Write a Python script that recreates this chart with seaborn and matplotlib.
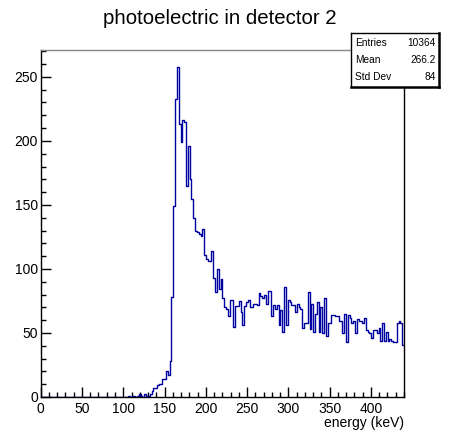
import matplotlib

matplotlib.use("Agg")

import matplotlib.pyplot as plt
import numpy as np
import pandas as pd
import seaborn as sns
from matplotlib.ticker import MultipleLocator

# histogram: 200 bins of 2.2 keV from 0 to 440 keV
bin_width = 2.2
n_bins = 200
counts = (
    [0] * 48
    + [1, 0, 1, 1, 0, 1, 2, 1, 0, 2, 1, 1, 2]
    + [5, 7, 7, 9, 10, 10, 14, 14, 20, 17, 28]
    + [78, 149, 233, 258, 213, 199, 216, 215, 165, 196, 170, 155]
    + [140, 130, 129, 127, 126, 131, 111, 108, 106, 106, 114, 93, 82, 100, 84, 92, 77, 70, 69, 63]
    + [76, 76, 55, 71, 71, 75, 66, 56, 71, 74, 76, 70, 70, 73, 73, 72, 81, 79, 77, 80,
       73, 83, 83, 63, 72, 69, 72, 56, 68, 51, 86, 56, 76, 74, 72, 72, 66, 73, 70, 69,
       54, 58, 58, 82, 53, 73, 51]
    + [65, 74, 51, 70, 50, 77, 48, 58, 58, 64, 64, 63, 63, 59, 59, 50, 65, 43, 64, 62,
       58, 59, 50, 61, 59, 59, 58, 62, 52, 51, 50, 46, 52, 52, 50, 54, 44, 58, 44, 51,
       44, 45, 44, 43, 43, 58, 59, 58, 41]
)

title = "photoelectric in detector 2"
x_label = "energy (keV)"
stat_names = ["Entries", "Mean", "Std Dev"]
stat_values = ["10364", "266.2", "84"]

sns.set_theme(style="ticks")
plt.rcParams["font.family"] = ["Liberation Sans", "DejaVu Sans"]
plt.rcParams["text.color"] = "black"

centers = (np.arange(n_bins) + 0.5) * bin_width
frame = pd.DataFrame({"energy": centers, "count": counts})

fig = plt.figure(figsize=(4.49, 4.34), dpi=100)
fig.patch.set_facecolor("white")
ax = fig.add_axes([40.7 / 449, 1 - 397 / 434, (404 - 40.7) / 449, (397 - 50) / 434])
ax.set_facecolor("white")

sns.histplot(
    data=frame,
    x="energy",
    weights="count",
    bins=n_bins,
    binrange=(0, n_bins * bin_width),
    element="step",
    fill=False,
    color="#0000a0",
    linewidth=1.0,
    ax=ax,
)

ax.set_xlim(0, 440)
ax.set_ylim(0, 271)
ax.set_ylabel("")
ax.set_xlabel(x_label, loc="right", fontsize=10, color="black")
ax.xaxis.set_label_coords(1.0, -0.056)

ax.xaxis.set_major_locator(MultipleLocator(50))
ax.xaxis.set_minor_locator(MultipleLocator(10))
ax.yaxis.set_major_locator(MultipleLocator(50))
ax.yaxis.set_minor_locator(MultipleLocator(10))
ax.tick_params(which="both", direction="in", color="black", labelcolor="black",
               width=1.0, labelsize=10)
ax.tick_params(which="major", length=7)
ax.tick_params(which="minor", length=3.5)
ax.tick_params(axis="x", pad=3.5)
ax.tick_params(axis="y", pad=2)

for side in ["left", "bottom", "right"]:
    ax.spines[side].set_color("black")
    ax.spines[side].set_linewidth(1.0)
ax.spines["top"].set_color("#888888")
ax.spines["top"].set_linewidth(1.0)

fig.text(220 / 449, 1 - 18 / 434, title, ha="center", va="center", fontsize=14.7)

# statistics box
box = fig.add_axes([351 / 449, 1 - 87 / 434, (439 - 351) / 449, (87 - 33) / 434])
box.set_facecolor("white")
box.set_xticks([])
box.set_yticks([])
for side, spine in box.spines.items():
    spine.set_color("black")
    spine.set_linewidth(1.8 if side in ("right", "bottom") else 1.0)
for row, (name, value) in enumerate(zip(stat_names, stat_values)):
    y = 0.81 - row * 0.31
    box.text(0.045, y, name, ha="left", va="center", fontsize=7.3, transform=box.transAxes)
    box.text(0.965, y, value, ha="right", va="center", fontsize=7.3, transform=box.transAxes)

fig.savefig("out.png", dpi=100)
